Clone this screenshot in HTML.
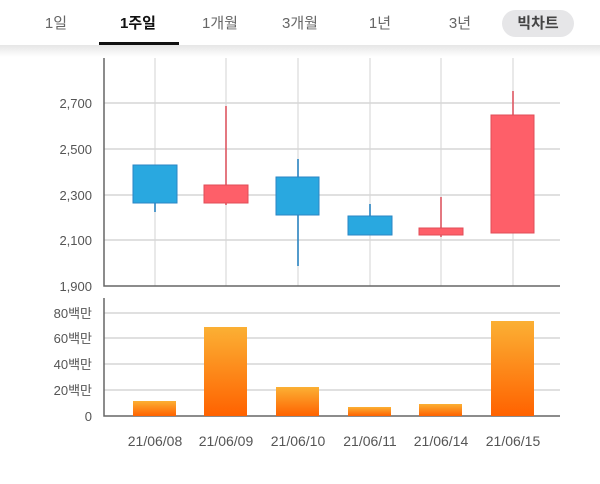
<!DOCTYPE html>
<html><head><meta charset="utf-8"><style>
body{margin:0;width:600px;height:484px;background:#fff;overflow:hidden;font-family:"Liberation Sans","Noto Sans CJK KR",sans-serif;}
.tab{position:absolute;top:12px;font-size:15px;color:#666;transform:translateX(-50%);white-space:nowrap}
</style></head><body>
<div style="position:absolute;left:0;top:45px;width:600px;height:12px;background:linear-gradient(#e6e6e6,#fff)"></div>
<div class="tab" style="left:56px">1일</div>
<div class="tab" style="left:138px;color:#111;font-weight:bold">1주일</div>
<div style="position:absolute;left:99px;top:42px;width:80px;height:3px;background:#111"></div>
<div class="tab" style="left:220px">1개월</div>
<div class="tab" style="left:300px">3개월</div>
<div class="tab" style="left:380px">1년</div>
<div class="tab" style="left:460px">3년</div>
<div style="position:absolute;left:502px;top:10px;width:72px;height:27px;border-radius:14px;background:#e6e6e8;color:#444;font-weight:bold;font-size:15px;text-align:center;line-height:27px">빅차트</div>
<svg width="600" height="484" style="position:absolute;left:0;top:0" font-family="Liberation Sans, Noto Sans CJK KR, sans-serif">
<defs><linearGradient id="g" x1="0" y1="0" x2="0" y2="1"><stop offset="0" stop-color="#fbb034"/><stop offset="1" stop-color="#ff6200"/></linearGradient></defs>
<g stroke="#e2e2e2" stroke-width="1.5">
<line x1="155" y1="58" x2="155" y2="286"/><line x1="226" y1="58" x2="226" y2="286"/><line x1="298" y1="58" x2="298" y2="286"/><line x1="370" y1="58" x2="370" y2="286"/><line x1="441" y1="58" x2="441" y2="286"/><line x1="513" y1="58" x2="513" y2="286"/>
</g>
<g stroke="#d6d6d6" stroke-width="1.5">
<line x1="104" y1="103" x2="560" y2="103"/><line x1="104" y1="149" x2="560" y2="149"/><line x1="104" y1="195" x2="560" y2="195"/><line x1="104" y1="240" x2="560" y2="240"/>
<line x1="104" y1="313" x2="560" y2="313"/><line x1="104" y1="338" x2="560" y2="338"/><line x1="104" y1="364" x2="560" y2="364"/><line x1="104" y1="390" x2="560" y2="390"/>
</g>
<g stroke="#666" stroke-width="1.5" fill="none">
<polyline points="104,58 104,286 560,286"/>
<polyline points="104,298 104,416 560,416"/>
</g>
<g font-size="13" fill="#555" text-anchor="end">
<text x="92" y="108">2,700</text><text x="92" y="154">2,500</text><text x="92" y="200">2,300</text><text x="92" y="245">2,100</text><text x="92" y="291">1,900</text>
<text x="92" y="318">80백만</text><text x="92" y="343">60백만</text><text x="92" y="369">40백만</text><text x="92" y="395">20백만</text><text x="92" y="421">0</text>
</g>
<g stroke="#1f7fc0" stroke-width="1.5"><line x1="155" y1="165" x2="155" y2="212"/><line x1="298" y1="159" x2="298" y2="266"/><line x1="370" y1="204" x2="370" y2="235"/></g>
<g stroke="#e0505c" stroke-width="1.5"><line x1="226" y1="106" x2="226" y2="205"/><line x1="441" y1="197" x2="441" y2="237"/><line x1="513" y1="91" x2="513" y2="233"/></g>
<g fill="#29a8e0" stroke="#2a86c4"><rect x="133" y="165" width="44" height="38"/><rect x="276" y="177" width="43" height="38"/><rect x="348" y="216" width="44" height="19"/></g>
<g fill="#fe5f69" stroke="#e04c57"><rect x="204" y="185" width="44" height="18"/><rect x="419" y="228" width="44" height="7"/><rect x="491" y="115" width="43" height="118"/></g>
<g fill="url(#g)"><rect x="133" y="401" width="43" height="15"/><rect x="204" y="327" width="43" height="89"/><rect x="276" y="387" width="43" height="29"/><rect x="348" y="407" width="43" height="9"/><rect x="419" y="404" width="43" height="12"/><rect x="491" y="321" width="43" height="95"/></g>
<g font-size="14" fill="#555" text-anchor="middle">
<text x="155" y="446">21/06/08</text><text x="226" y="446">21/06/09</text><text x="298" y="446">21/06/10</text><text x="370" y="446">21/06/11</text><text x="441" y="446">21/06/14</text><text x="513" y="446">21/06/15</text>
</g>
</svg>
</body></html>
